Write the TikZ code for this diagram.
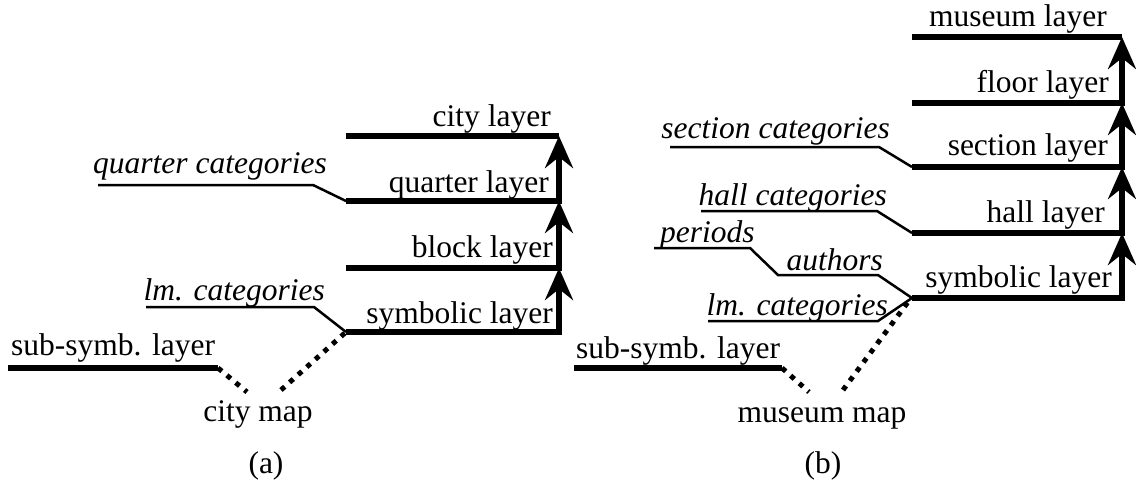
\documentclass[tikz,border=0pt]{standalone}
\usepackage{fontspec}
\setmainfont{Liberation Serif}
\usetikzlibrary{arrows.meta}
\begin{document}
\begin{tikzpicture}[x=1pt,y=-1pt,
  layer/.style={line width=5.5pt},
  up/.style={line width=5.5pt,line cap=rect,-{Stealth[length=32pt,width=28pt,inset=11pt]}},
  link/.style={line width=2.5pt},
  dots/.style={line width=5pt,dash pattern=on 5pt off 6.5pt},
  lab/.style={inner sep=0pt,font=\fontsize{31.5}{38}\selectfont},
  cat/.style={inner sep=0pt,font=\fontsize{31.5}{38}\selectfont\itshape}]
\useasboundingbox (0,0) rectangle (1136,483);
% ---------- (a) ----------
\coordinate (cityL) at (346,136); \coordinate (cityR) at (559,136);
\coordinate (quarL) at (346,201); \coordinate (quarR) at (559,201);
\coordinate (blockL) at (346,268); \coordinate (blockR) at (559,268);
\coordinate (symL) at (346,332); \coordinate (symR) at (559,332);
\coordinate (subL) at (8,368); \coordinate (subR) at (218,368);
\coordinate (qcL) at (98,185); \coordinate (qcB) at (313,185);
\coordinate (lmL) at (146,307); \coordinate (lmB) at (314,307);
\coordinate (dA1) at (247,392); \coordinate (dA2) at (281,390);
\draw[layer] (cityL) -- (cityR);
\draw[layer] (quarL) -- (quarR);
\draw[layer] (blockL) -- (blockR);
\draw[layer] (symL) -- (symR);
\draw[layer] (subL) -- (subR);
\draw[up] (symR) -- (blockR);
\draw[up] (blockR) -- (quarR);
\draw[up] (quarR) -- (cityR);
\draw[link] (qcL) -- (qcB) -- (quarL);
\draw[link] (lmL) -- (lmB) -- (symL);
\draw[dots] (subR) -- (dA1);
\draw[dots] (dA2) -- (symL);
\node[lab,anchor=base east] (tcity) at (551,126) {city layer};
\node[lab,anchor=base east] (tquar) at (549,192) {quarter layer};
\node[lab,anchor=base east] (tblock) at (553,257) {block layer};
\node[lab,anchor=base east] (tsym) at (553,323) {symbolic layer};
\node[cat,anchor=base east] (tqc) at (327,173) {quarter categories};
\node[cat,anchor=base east] (tlm) at (325,300) {lm. categories};
\node[lab,anchor=base west] (tsub) at (11,355) {sub-symb. layer};
\node[lab,anchor=base] (tmapa) at (258,421) {city map};
\node[lab,anchor=base] (capa) at (266,473) {(a)};
% ---------- (b) ----------
\coordinate (musL) at (912,37); \coordinate (musR) at (1122,37);
\coordinate (floL) at (912,103); \coordinate (floR) at (1122,103);
\coordinate (secL) at (912,167); \coordinate (secR) at (1122,167);
\coordinate (halL) at (912,233); \coordinate (halR) at (1122,233);
\coordinate (sybL) at (912,298); \coordinate (sybR) at (1122,298);
\coordinate (subbL) at (574,368); \coordinate (subbR) at (782,368);
\coordinate (scL) at (670,147); \coordinate (scB) at (879,147);
\coordinate (hcL) at (701,211); \coordinate (hcB) at (877,211);
\coordinate (peL) at (654,248); \coordinate (peB) at (750,248);
\coordinate (auL) at (778,275); \coordinate (auB) at (878,275);
\coordinate (lcL) at (708,321); \coordinate (lcB) at (878,321);
\coordinate (dB1) at (809,392); \coordinate (dB2) at (843,390);
\coordinate (dB3) at (908,302);
\draw[layer] (musL) -- (musR);
\draw[layer] (floL) -- (floR);
\draw[layer] (secL) -- (secR);
\draw[layer] (halL) -- (halR);
\draw[layer] (sybL) -- (sybR);
\draw[layer] (subbL) -- (subbR);
\draw[up] (sybR) -- (halR);
\draw[up] (halR) -- (secR);
\draw[up] (secR) -- (floR);
\draw[up] (floR) -- (musR);
\draw[link] (scL) -- (scB) -- (secL);
\draw[link] (hcL) -- (hcB) -- (halL);
\draw[link] (peL) -- (peB) -- (auL) -- (auB) -- (sybL);
\draw[link] (lcL) -- (lcB) -- (sybL);
\draw[dots] (subbR) -- (dB1);
\draw[dots] (dB2) -- (dB3);
\node[lab,anchor=base east] (tmus) at (1107,26) {museum layer};
\node[lab,anchor=base east] (tflo) at (1109,92) {floor layer};
\node[lab,anchor=base east] (tsec) at (1108,155) {section layer};
\node[lab,anchor=base east] (thal) at (1105,222) {hall layer};
\node[lab,anchor=base east] (tsyb) at (1112,287) {symbolic layer};
\node[cat,anchor=base east] (tsc) at (890,138) {section categories};
\node[cat,anchor=base east] (thc) at (887,205) {hall categories};
\node[cat,anchor=base west] (tpe) at (660,242) {periods};
\node[cat,anchor=base east] (tau) at (883,270) {authors};
\node[cat,anchor=base east] (tlc) at (888,315) {lm. categories};
\node[lab,anchor=base west] (tsubb) at (576,358) {sub-symb. layer};
\node[lab,anchor=base] (tmapb) at (822,422) {museum map};
\node[lab,anchor=base] (capb) at (823,473) {(b)};
\end{tikzpicture}
\end{document}
